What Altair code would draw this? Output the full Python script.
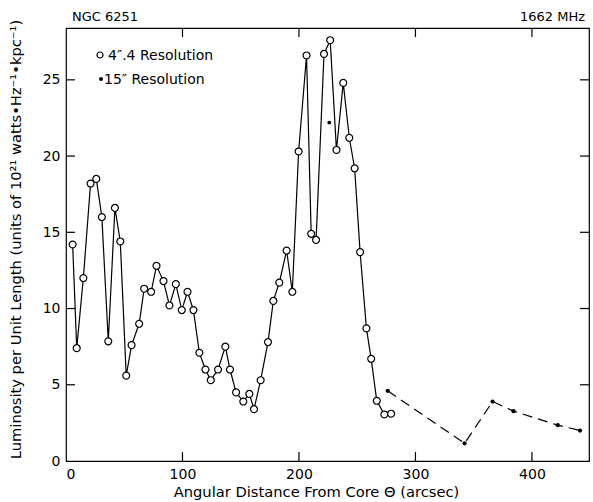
import altair as alt
import pandas as pd

# 4".4 resolution (open circles, solid line)
hi_x = [5.7, 9.2, 14.9, 21.1, 26.0, 30.8, 36.3, 42.0, 46.6, 51.7, 56.3, 62.8, 67.1, 73.1,
        77.7, 83.7, 88.8, 94.3, 99.4, 104.3, 109.4, 114.5, 119.7, 124.3, 130.5, 136.8,
        140.8, 146.0, 152.2, 157.4, 161.4, 167.1, 173.4, 178.0, 183.1, 189.4, 194.3,
        199.7, 206.5, 210.5, 214.7, 221.5, 226.8, 232.2, 238.0, 243.2, 247.8, 252.5,
        257.9, 262.0, 266.8, 273.3, 279.1]
hi_y = [14.2, 7.4, 12.0, 18.2, 18.5, 16.0, 7.85, 16.6, 14.4, 5.6, 7.6, 9.0, 11.3, 11.1,
        12.8, 11.8, 10.2, 11.6, 9.9, 11.1, 9.9, 7.1, 6.0, 5.3, 6.0, 7.5,
        6.0, 4.5, 3.9, 4.4, 3.4, 5.3, 7.8, 10.5, 11.7, 13.8, 11.1,
        20.3, 26.6, 14.9, 14.5, 26.7, 27.6, 20.4, 24.8, 21.2, 19.2, 13.7,
        8.7, 6.7, 3.95, 3.05, 3.1]

# 15" resolution (filled dots, dashed line)
lo_x = [276.2, 342.2, 366.2, 384.2, 422.2, 441.3]
lo_y = [4.6, 1.16, 3.9, 3.27, 2.35, 2.0]

# isolated 15" point
iso_x = [226.0]
iso_y = [22.2]

x_ticks = [100, 200, 300, 400]
y_ticks = [5, 10, 15, 20, 25]
x_labels = [0, 100, 200, 300, 400]
y_labels = [0, 5, 10, 15, 20, 25]

W, H = 523, 433
FONT = "DejaVu Sans"
TICK = 9

xs = alt.Scale(domain=[0, 449], nice=False, zero=False)
ys = alt.Scale(domain=[0, 28.4], nice=False, zero=False)

hi = pd.DataFrame({"x": hi_x, "y": hi_y, "i": list(range(len(hi_x)))})
lo = pd.DataFrame({"x": lo_x, "y": lo_y, "i": list(range(len(lo_x)))})
iso = pd.DataFrame({"x": iso_x, "y": iso_y})

x_axis = alt.Axis(values=x_labels, ticks=False, tickSize=0, domain=False, grid=False,
                  labelFontSize=14, labelPadding=6, labelFont=FONT, labelColor="black",
                  title="Angular Distance From Core \u0398 (arcsec)", titleFont=FONT,
                  titleFontSize=14.7, titleFontWeight="normal", titleColor="black",
                  titleX=250, titleY=31, titleBaseline="middle")
y_axis = alt.Axis(values=y_labels, ticks=False, tickSize=0, domain=False, grid=False,
                  labelFontSize=14, labelPadding=6, labelFont=FONT, labelColor="black",
                  title="Luminosity per Unit Length (units of 10\u00b2\u00b9 watts\u2022Hz\u207b\u00b9\u2022kpc\u207b\u00b9)",
                  titleFont=FONT, titleFontSize=14.7, titleFontWeight="normal", titleColor="black",
                  titleX=-50, titleY=211, titleAngle=-90, titleBaseline="middle", titleAlign="center")

line_hi = alt.Chart(hi).mark_line(color="black", strokeWidth=1.2).encode(
    x=alt.X("x:Q", scale=xs, axis=x_axis),
    y=alt.Y("y:Q", scale=ys, axis=y_axis),
    order="i:Q",
)
pts_hi = alt.Chart(hi).mark_point(shape="circle", filled=True, fill="white", stroke="black",
                                  strokeWidth=1.2, size=48, opacity=1).encode(
    x=alt.X("x:Q", scale=xs), y=alt.Y("y:Q", scale=ys))

line_lo = alt.Chart(lo).mark_line(color="black", strokeWidth=1.2, strokeDash=[10, 6]).encode(
    x=alt.X("x:Q", scale=xs), y=alt.Y("y:Q", scale=ys), order="i:Q")
pts_lo = alt.Chart(lo).mark_point(shape="circle", filled=True, color="black", size=18, opacity=1).encode(
    x=alt.X("x:Q", scale=xs), y=alt.Y("y:Q", scale=ys))
pts_iso = alt.Chart(iso).mark_point(shape="circle", filled=True, color="black", size=14, opacity=1).encode(
    x=alt.X("x:Q", scale=xs), y=alt.Y("y:Q", scale=ys))

xt = pd.DataFrame({"x": x_ticks})
yt = pd.DataFrame({"y": y_ticks})
tick_b = alt.Chart(xt).mark_rule(color="black", strokeWidth=1.2).encode(
    x=alt.X("x:Q", scale=xs), y=alt.value(H), y2=alt.value(H - TICK))
tick_t = alt.Chart(xt).mark_rule(color="black", strokeWidth=1.2).encode(
    x=alt.X("x:Q", scale=xs), y=alt.value(0), y2=alt.value(TICK))
tick_l = alt.Chart(yt).mark_rule(color="black", strokeWidth=1.2).encode(
    y=alt.Y("y:Q", scale=ys), x=alt.value(0), x2=alt.value(TICK))
tick_r = alt.Chart(yt).mark_rule(color="black", strokeWidth=1.2).encode(
    y=alt.Y("y:Q", scale=ys), x=alt.value(W), x2=alt.value(W - TICK))

# legend
leg_open = alt.Chart(pd.DataFrame({"a": [0]})).mark_point(
    shape="circle", filled=True, fill="white", stroke="black", strokeWidth=1.2, size=36, opacity=1
).encode(x=alt.value(34), y=alt.value(27))
leg_open_t = alt.Chart(pd.DataFrame({"a": [0]})).mark_text(
    text="4\u2033.4 Resolution", align="left", baseline="middle", fontSize=14, font=FONT, color="black"
).encode(x=alt.value(42), y=alt.value(28))
leg_fill = alt.Chart(pd.DataFrame({"a": [0]})).mark_point(
    shape="circle", filled=True, color="black", size=16, opacity=1
).encode(x=alt.value(35), y=alt.value(51))
leg_fill_t = alt.Chart(pd.DataFrame({"a": [0]})).mark_text(
    text="15\u2033 Resolution", align="left", baseline="middle", fontSize=14, font=FONT, color="black"
).encode(x=alt.value(38), y=alt.value(52))

# top labels
top_l = alt.Chart(pd.DataFrame({"a": [0]})).mark_text(
    text="NGC 6251", align="left", baseline="middle", fontSize=13, font=FONT, color="black"
).encode(x=alt.value(6), y=alt.value(-11))
top_r = alt.Chart(pd.DataFrame({"a": [0]})).mark_text(
    text="1662 MHz", align="right", baseline="middle", fontSize=13, font=FONT, color="black"
).encode(x=alt.value(519), y=alt.value(-11))

chart = alt.layer(
    line_hi, pts_hi, line_lo, pts_lo, pts_iso,
    tick_b, tick_t, tick_l, tick_r,
    leg_open, leg_open_t, leg_fill, leg_fill_t, top_l, top_r,
).properties(
    width=W, height=H,
    autosize=alt.AutoSizeParams(type="none"),
    padding={"left": 66, "top": 28, "right": 4, "bottom": 41},
    background="white",
).configure_view(stroke="black", strokeWidth=1.2)

chart.save("out.html", embed_options={"renderer": "svg", "actions": False})
